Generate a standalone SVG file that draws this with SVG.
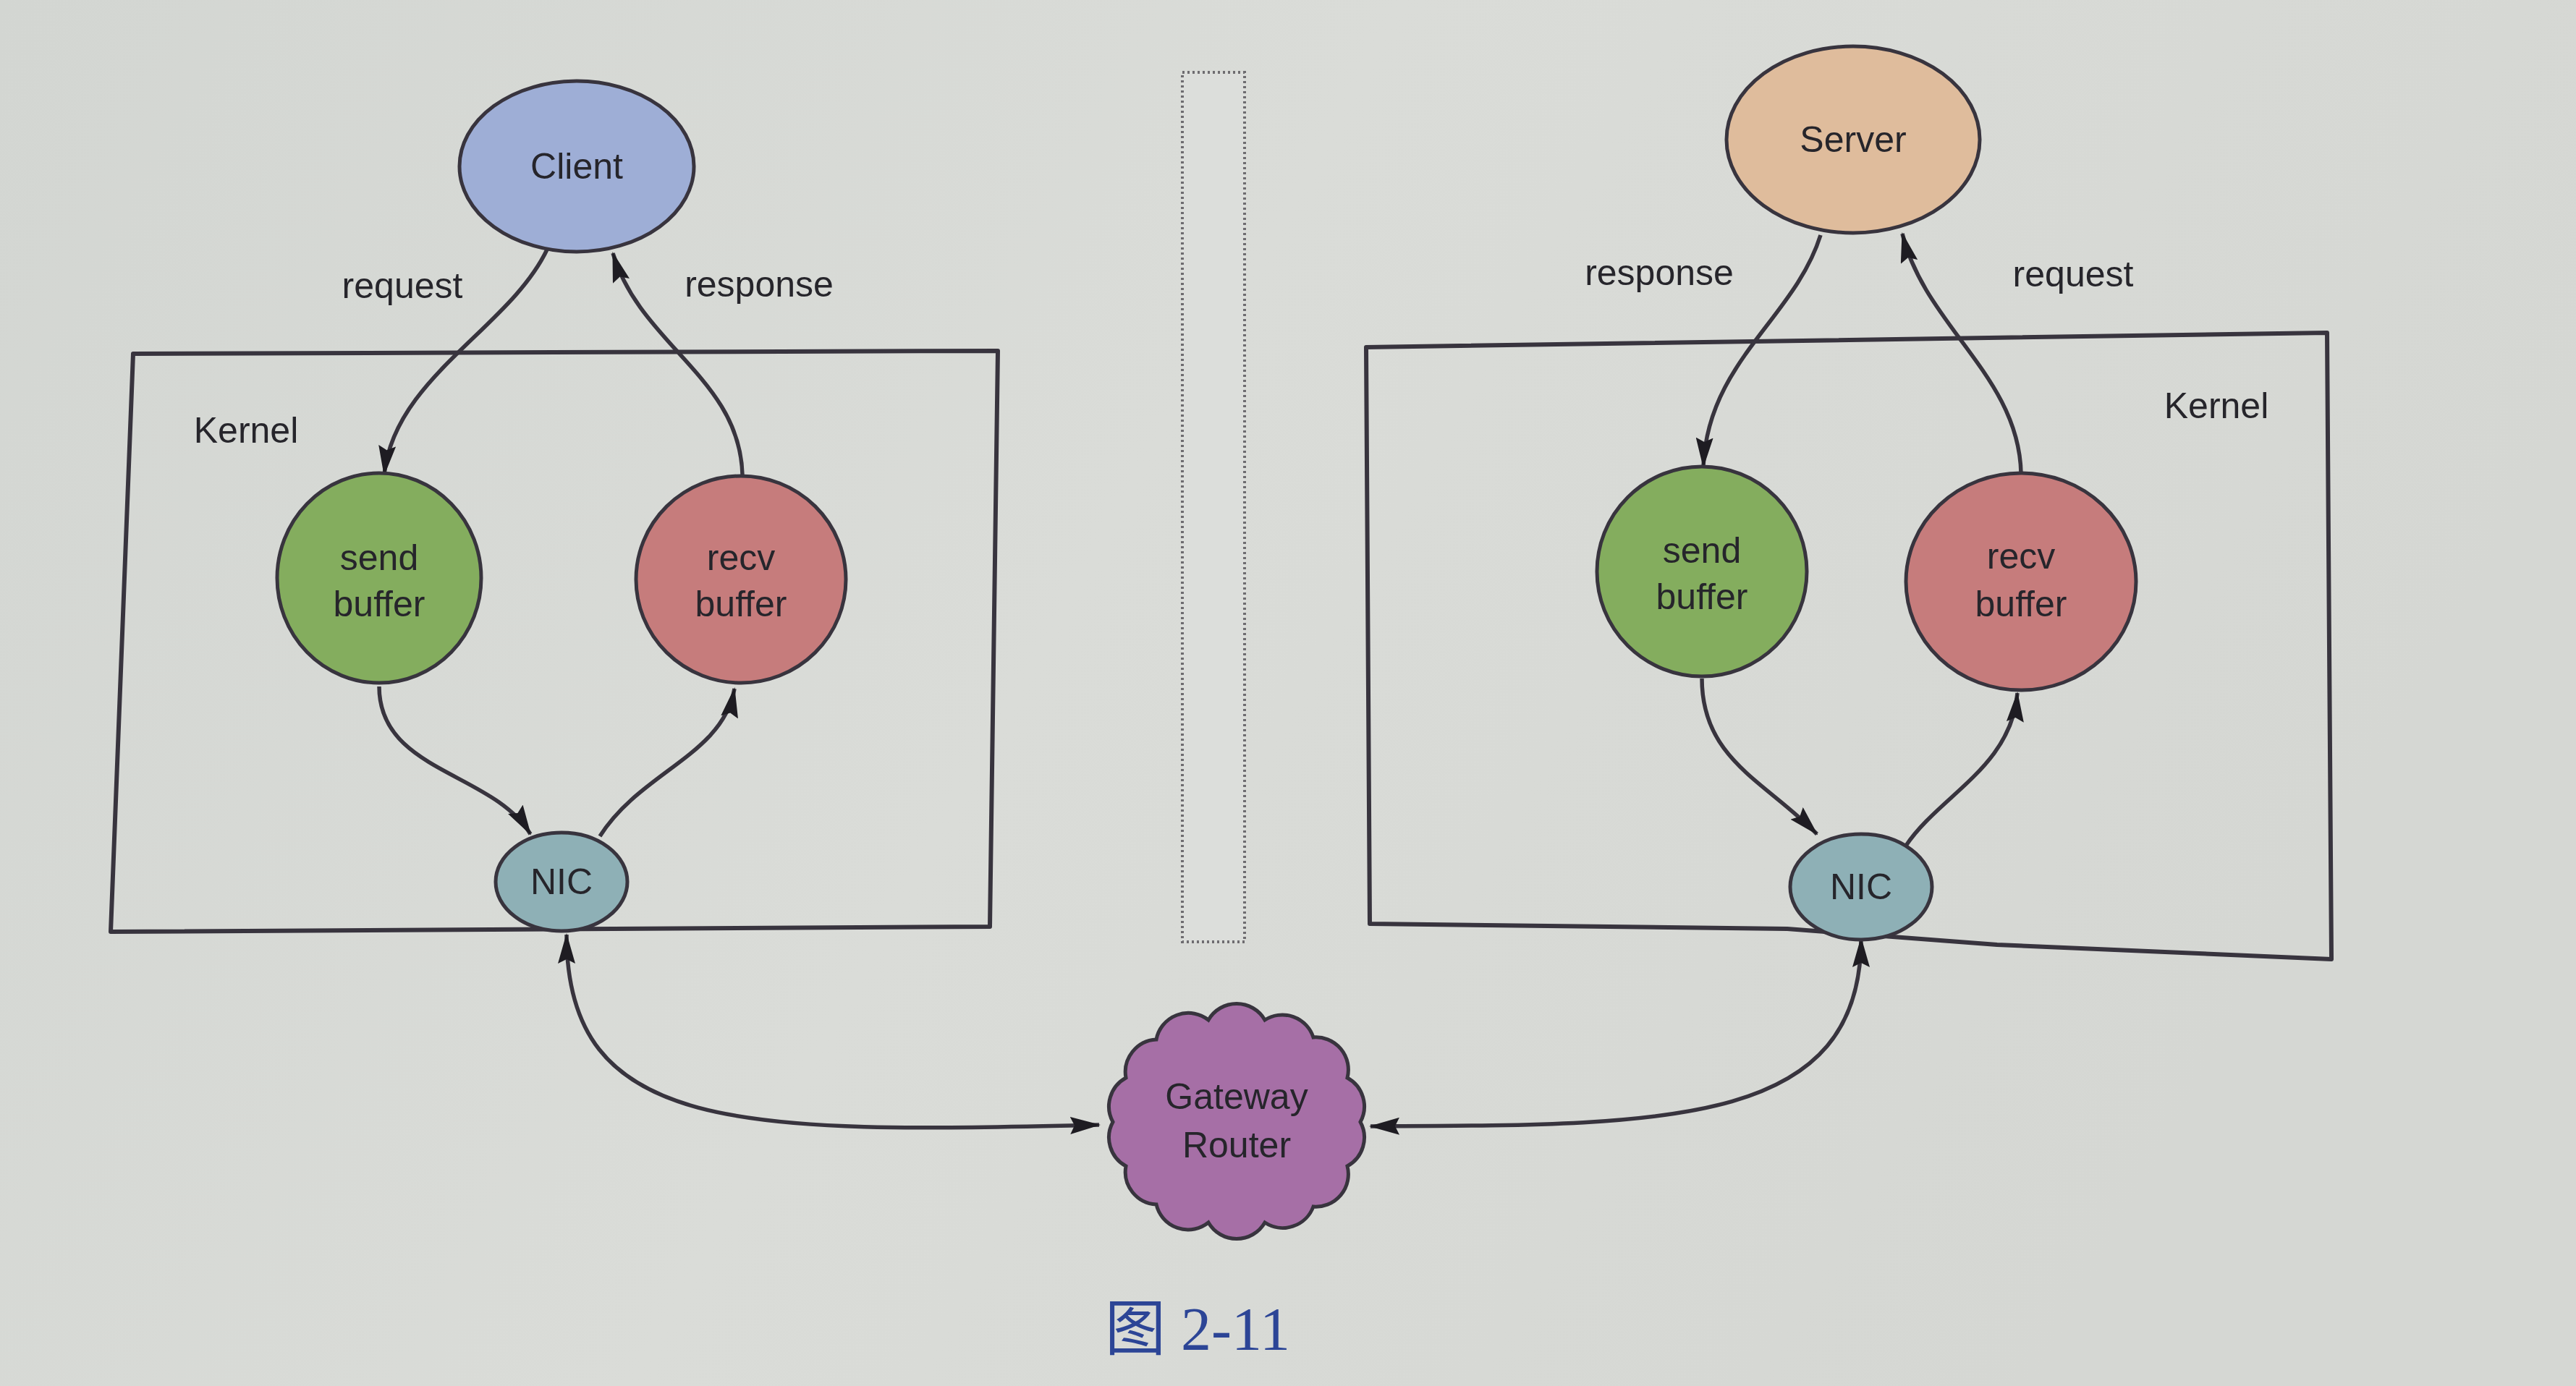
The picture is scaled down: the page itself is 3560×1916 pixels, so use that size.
<svg xmlns="http://www.w3.org/2000/svg" width="3560" height="1916" viewBox="0 0 3560 1916">
<style>
.bg{fill:url(#paper)}
.box{fill:none;stroke:#38343e;stroke-width:6;stroke-linejoin:round}
.node{stroke:#38343e;stroke-width:5}
.lbl{font-family:"Liberation Sans",Arial,sans-serif;font-size:50px;fill:#26252b;text-anchor:middle}
.edge{fill:none;stroke:#38343e;stroke-width:5.5}
.cap{font-family:"Liberation Serif","Noto Sans CJK SC",serif;font-size:84px;fill:#2c4596;text-anchor:middle}
</style>
<defs>
<linearGradient id="paper" x1="0" y1="0" x2="1" y2="0.3">
<stop offset="0" stop-color="#d3d6d2"/>
<stop offset="0.5" stop-color="#dadcd8"/>
<stop offset="1" stop-color="#d5d7d3"/>
</linearGradient>
<marker id="ah" viewBox="0 0 42 24" refX="40" refY="12" markerWidth="42" markerHeight="24" markerUnits="userSpaceOnUse" orient="auto-start-reverse">
<path d="M0,0 L42,12 L0,24 L6,12 Z" fill="#1e1c22"/>
</marker>
</defs>
<rect class="bg" x="0" y="0" width="3560" height="1916"/>

<g id="divider">
<rect x="1634" y="100" width="86" height="1202" fill="#dcdedb" stroke="#6e6c70" stroke-width="4" stroke-dasharray="3,4"/>
</g>

<g id="kernel-left">
<path class="box" d="M184,489 L1379,485 L1368,1281 L153,1288 Z"/>
<text class="lbl" x="340" y="612">Kernel</text>
</g>
<g id="kernel-right">
<path class="box" d="M1888,480 L3216,460 L3222,1326 L2760,1306 Q2600,1294 2470,1284 L1893,1277 Z"/>
<text class="lbl" x="3063" y="578">Kernel</text>
</g>

<g id="connectors">
<path class="edge" marker-end="url(#ah)" d="M756,345 C704,454 545,522 531,656"/>
<path class="edge" marker-end="url(#ah)" d="M1026,656 C1022,522 885,477 847,350"/>
<path class="edge" marker-end="url(#ah)" d="M524,949 C524,1067 681,1067 733,1153"/>
<path class="edge" marker-end="url(#ah)" d="M829,1156 C885,1067 999,1044 1015,952"/>
<path class="edge" marker-start="url(#ah)" marker-end="url(#ah)" d="M783,1292 C783,1567 1022,1567 1519,1555"/>
<path class="edge" marker-end="url(#ah)" d="M2516,325 C2480,440 2360,500 2354,645"/>
<path class="edge" marker-end="url(#ah)" d="M2793,654 C2790,520 2660,450 2629,323"/>
<path class="edge" marker-end="url(#ah)" d="M2352,938 C2352,1050 2440,1080 2511,1153"/>
<path class="edge" marker-end="url(#ah)" d="M2634,1169 C2680,1100 2780,1060 2788,958"/>
<path class="edge" marker-start="url(#ah)" marker-end="url(#ah)" d="M2572,1297 C2572,1560 2300,1555 1894,1557"/>
<text class="lbl" x="556" y="412">request</text>
<text class="lbl" x="1049" y="410">response</text>
<text class="lbl" x="2293" y="394">response</text>
<text class="lbl" x="2865" y="396">request</text>
</g>

<g id="client">
<ellipse class="node" cx="797" cy="230" rx="162" ry="118" fill="#9eaed6"/>
<text class="lbl" x="797" y="247">Client</text>
</g>
<g id="send-buffer-left">
<ellipse class="node" cx="524" cy="799" rx="141" ry="145" fill="#84ad5e"/>
<text class="lbl" x="524" y="788">send</text>
<text class="lbl" x="524" y="852">buffer</text>
</g>
<g id="recv-buffer-left">
<ellipse class="node" cx="1024" cy="801" rx="145" ry="143" fill="#c67c7c"/>
<text class="lbl" x="1024" y="788">recv</text>
<text class="lbl" x="1024" y="852">buffer</text>
</g>
<g id="nic-left">
<ellipse class="node" cx="776" cy="1219" rx="91" ry="68" fill="#8eb0b6"/>
<text class="lbl" x="776" y="1236">NIC</text>
</g>

<g id="server">
<ellipse class="node" cx="2561" cy="193" rx="175" ry="129" fill="#dfbc9c"/>
<text class="lbl" x="2561" y="210">Server</text>
</g>
<g id="send-buffer-right">
<ellipse class="node" cx="2352" cy="790" rx="145" ry="145" fill="#84ad5e"/>
<text class="lbl" x="2352" y="778">send</text>
<text class="lbl" x="2352" y="842">buffer</text>
</g>
<g id="recv-buffer-right">
<ellipse class="node" cx="2793" cy="804" rx="159" ry="150" fill="#c67c7c"/>
<text class="lbl" x="2793" y="786">recv</text>
<text class="lbl" x="2793" y="852">buffer</text>
</g>
<g id="nic-right">
<ellipse class="node" cx="2572" cy="1226" rx="98" ry="73" fill="#8eb0b6"/>
<text class="lbl" x="2572" y="1243">NIC</text>
</g>

<g id="gateway-router">
<path class="node" fill="#a66fa6" d="M1880,1551 A45,45 0 0 1 1862,1612 A45,45 0 0 1 1815,1668 A45,45 0 0 1 1748,1690 A45,45 0 0 1 1670,1690 A45,45 0 0 1 1598,1665 A45,45 0 0 1 1556,1612 A45,45 0 0 1 1538,1551 A45,45 0 0 1 1556,1490 A45,45 0 0 1 1598,1437 A45,45 0 0 1 1670,1410 A45,45 0 0 1 1748,1410 A45,45 0 0 1 1815,1434 A45,45 0 0 1 1862,1490 A45,45 0 0 1 1880,1551 Z"/>
<text class="lbl" x="1709" y="1533">Gateway</text>
<text class="lbl" x="1709" y="1600">Router</text>
</g>

<text class="cap" x="1655" y="1866">图 2-11</text>
</svg>
